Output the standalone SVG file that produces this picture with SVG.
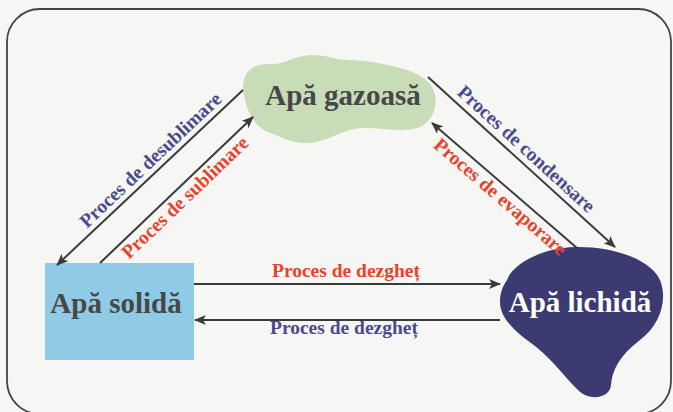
<svg xmlns="http://www.w3.org/2000/svg" width="673" height="412" viewBox="0 0 673 412">
<defs>
<marker id="ah" viewBox="0 0 12 10" refX="11" refY="5" markerWidth="12" markerHeight="10" markerUnits="userSpaceOnUse" orient="auto">
<path d="M0,0 L12,5 L0,10 L3,5 Z" fill="#3a3a3a"/>
</marker>
<style>
.title{font-family:"Liberation Serif","Times New Roman",serif;font-weight:bold;font-size:29px;text-anchor:middle}
.lbl{font-family:"Liberation Serif","Times New Roman",serif;font-weight:bold;font-size:19.5px;text-anchor:middle}
.blue{fill:#4b4b8c}
.red{fill:#e8432d}
.con{stroke:#3a3a3a;stroke-width:2;fill:none;marker-end:url(#ah)}
</style>
</defs>
<rect width="673" height="412" fill="#f6f6f4"/>
<rect x="7" y="9" width="664" height="405" rx="33" fill="none" stroke="#444" stroke-width="1.8"/>

<g id="gas">
<path d="M 243,88 C 243,70 255,63 270,64 C 285,65 295,55 312,55 C 328,55 335,60 348,60 C 365,60 385,64 400,68 C 420,73 433,82 435,95 C 437,108 433,120 420,127 C 405,133 385,128 365,128 C 345,128 335,138 315,142 C 295,146 285,138 270,133 C 255,128 245,110 243,88 Z" fill="#c8dcb8"/>
<text class="title" x="343" y="105" fill="#474747">Apă gazoasă</text>
</g>

<g id="solid">
<rect x="45" y="263" width="149" height="97" fill="#8fcbe4"/>
<text class="title" x="116" y="313" fill="#474747">Apă solidă</text>
</g>

<g id="liquid">
<path d="M 507,280 C 512,265 540,248 575,247 C 610,246 650,258 660,280 C 668,300 660,325 640,340 C 620,355 612,370 611,385 C 610,398 590,402 578,390 C 565,378 555,362 535,346 C 515,332 500,318 500,302 C 500,292 503,286 507,280 Z" fill="#3b3b72"/>
<text class="title" x="580" y="312" fill="#ffffff">Apă lichidă</text>
</g>

<g id="connectors">
<line class="con" x1="243" y1="90" x2="57" y2="265"/>
<line class="con" x1="100" y1="263" x2="253" y2="117"/>
<line class="con" x1="428" y1="77" x2="615" y2="247"/>
<line class="con" x1="577" y1="248" x2="432" y2="123"/>
<line class="con" x1="194" y1="284" x2="500" y2="284"/>
<line class="con" x1="500" y1="320" x2="195" y2="320"/>
</g>

<g id="labels">
<text class="lbl blue" transform="translate(159,169) rotate(-43.3)" y="-6">Proces de desublimare</text>
<text class="lbl red" transform="translate(177,189) rotate(-43.7)" y="18">Proces de sublimare</text>
<text class="lbl blue" transform="translate(518,158) rotate(42.3)" y="-6">Proces de condensare</text>
<text class="lbl red" transform="translate(508,188) rotate(40.8)" y="18">Proces de evaporare</text>
<text class="lbl red" x="346" y="277">Proces de dezgheț</text>
<text class="lbl blue" x="344" y="334">Proces de dezgheț</text>
</g>
</svg>
